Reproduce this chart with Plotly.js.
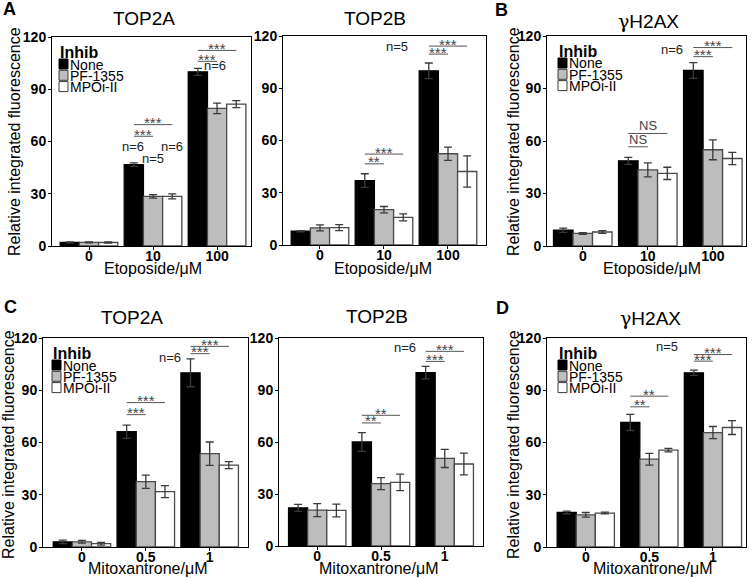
<!DOCTYPE html>
<html><head><meta charset="utf-8">
<script src="https://cdn.plot.ly/plotly-3.0.1.min.js"></script>
<style>html,body{margin:0;padding:0;background:#fff}#chart{width:753px;height:578px}</style>
</head><body><div id="chart"></div>
<script>
// ---------- DATA ----------
const seriesNames = ['None', 'PF-1355', 'MPOi-II'];
const etoDoses = ['0', '10', '100'];
const mitoDoses = ['0', '0.5', '1'];
const yTicks = [0, 30, 60, 90, 120];

// Etoposide, TOP2A
const etoTop2aNone = [2.1, 46.7, 100];   const etoTop2aNoneErr = [0.3, 1.0, 2.0];
const etoTop2aPF   = [2.1, 28.5, 79];    const etoTop2aPFErr   = [0.3, 1.0, 3.0];
const etoTop2aMPO  = [2.0, 28.5, 81.5];  const etoTop2aMPOErr  = [0.3, 1.4, 2.0];
// Etoposide, TOP2B
const etoTop2bNone = [7.9, 37, 100];     const etoTop2bNoneErr = [0.3, 3.9, 4.5];
const etoTop2bPF   = [9.8, 20.3, 52.4];  const etoTop2bPFErr   = [1.7, 1.8, 3.8];
const etoTop2bMPO  = [10, 15.9, 42.2];   const etoTop2bMPOErr  = [1.7, 2.0, 9.0];
// Etoposide, gH2AX
const etoH2axNone = [9, 48.7, 100.3];    const etoH2axNoneErr = [1.2, 2.0, 4.5];
const etoH2axPF   = [7.2, 43.5, 55];     const etoH2axPFErr   = [0.5, 4.0, 5.7];
const etoH2axMPO  = [8, 41.5, 50];       const etoH2axMPOErr  = [0.8, 3.5, 3.5];
// Mitoxantrone, TOP2A
const mitoTop2aNone = [2.9, 66.2, 100];  const mitoTop2aNoneErr = [1.0, 3.8, 8.0];
const mitoTop2aPF   = [3.0, 37.5, 53.6]; const mitoTop2aPFErr   = [0.8, 3.8, 6.7];
const mitoTop2aMPO  = [1.9, 31.8, 47];   const mitoTop2aMPOErr  = [0.8, 3.4, 2.0];
// Mitoxantrone, TOP2B
const mitoTop2bNone = [22, 60, 100];     const mitoTop2bNoneErr = [2.0, 5.4, 3.6];
const mitoTop2bPF   = [20.7, 36, 50.5];  const mitoTop2bPFErr   = [3.8, 3.5, 5.2];
const mitoTop2bMPO  = [20.5, 36.7, 47.3];const mitoTop2bMPOErr  = [3.7, 4.8, 6.3];
// Mitoxantrone, gH2AX
const mitoH2axNone = [19.8, 71.5, 100];  const mitoH2axNoneErr = [0.8, 4.6, 1.5];
const mitoH2axPF   = [18.5, 50.4, 65.7]; const mitoH2axPFErr   = [1.3, 3.4, 3.5];
const mitoH2axMPO  = [19.5, 55.6, 68.6]; const mitoH2axMPOErr  = [0.5, 1.0, 4.0];

// significance brackets: [dose group, from series, to series, level, label]
const sigEtoTop2a = [[1,0,1,63,'***'],[1,0,2,69.7,'***'],[2,0,1,106,'***'],[2,0,2,112.3,'***']];
const sigEtoTop2b = [[1,0,1,46.6,'**'],[1,0,2,52.2,'***'],[2,0,1,109.6,'***'],[2,0,2,114.2,'***']];
const sigEtoH2ax  = [[1,0,1,56.7,'NS'],[1,0,2,64.3,'NS'],[2,0,1,108.2,'***'],[2,0,2,113.4,'***']];
const sigMitoTop2a = [[1,0,1,76,'***'],[1,0,2,82.9,'***'],[2,0,1,111,'***'],[2,0,2,115.2,'***']];
const sigMitoTop2b = [[1,0,1,71,'**'],[1,0,2,75.4,'**'],[2,0,1,106.5,'***'],[2,0,2,112.3,'***']];
const sigMitoH2ax  = [[1,0,1,80.5,'**'],[1,0,2,86.6,'**'],[2,0,1,106.7,'***'],[2,0,2,110.5,'***']];

// sample size labels: [x (dose index), level, text]
const nEtoTop2a = [[0.68,57,'n=6'],[1.0,50.5,'n=5'],[1.3,57,'n=6'],[1.97,103.7,'n=6']];
const nEtoTop2b = [[1.2,113.8,'n=5']];
const nEtoH2ax  = [[1.37,112,'n=6']];
const nMitoTop2a = [[1.38,109,'n=6']];
const nMitoTop2b = [[1.37,114.8,'n=6']];
const nMitoH2ax  = [[1.28,114.9,'n=5']];

// ---------- LAYOUT CONFIG ----------
const W = 753, H = 578;
const FONT = 'Liberation Sans, Arial, Helvetica, sans-serif';
const fills = ['#000000', '#bdbdbd', '#ffffff'];
const outlines = ['#000000', '#4a4a4a', '#4a4a4a'];
const gammaTitle = '<span style="font-family:DejaVu Serif, serif">γ</span>H2AX';

const panels = [
  {title:'TOP2A', doses:etoDoses, xlab:'Etoposide/μM',
   vals:[etoTop2aNone, etoTop2aPF, etoTop2aMPO], errs:[etoTop2aNoneErr, etoTop2aPFErr, etoTop2aMPOErr],
   sig:sigEtoTop2a, n:nEtoTop2a, box:[52,37,251,246], range:[-0.578,2.53],
   titlePos:[144,19], xlabPos:[153,268], ylabPos:[14,142], letter:['A',9,9], legendDx:7},
  {title:'TOP2B', doses:etoDoses, xlab:'Etoposide/μM',
   vals:[etoTop2bNone, etoTop2bPF, etoTop2bMPO], errs:[etoTop2bNoneErr, etoTop2bPFErr, etoTop2bMPOErr],
   sig:sigEtoTop2b, n:nEtoTop2b, box:[283,36,486,245], range:[-0.578,2.594],
   titlePos:[375,19], xlabPos:[383,268], ylabPos:null, letter:null, legendDx:null},
  {title:gammaTitle, doses:etoDoses, xlab:'Etoposide/μM',
   vals:[etoH2axNone, etoH2axPF, etoH2axMPO], errs:[etoH2axNoneErr, etoH2axPFErr, etoH2axMPOErr],
   sig:sigEtoH2ax, n:nEtoH2ax, box:[547,36,746,246], range:[-0.55,2.51],
   titlePos:[648,21], xlabPos:[652,268], ylabPos:[513,142], letter:['B',501,10], legendDx:11},
  {title:'TOP2A', doses:mitoDoses, xlab:'Mitoxantrone/μM',
   vals:[mitoTop2aNone, mitoTop2aPF, mitoTop2aMPO], errs:[mitoTop2aNoneErr, mitoTop2aPFErr, mitoTop2aMPOErr],
   sig:sigMitoTop2a, n:nMitoTop2a, box:[43,338,248,547], range:[-0.61,2.6],
   titlePos:[132,317], xlabPos:[147,568], ylabPos:[8,445], letter:['C',10,307], legendDx:9},
  {title:'TOP2B', doses:mitoDoses, xlab:'Mitoxantrone/μM',
   vals:[mitoTop2bNone, mitoTop2bPF, mitoTop2bMPO], errs:[mitoTop2bNoneErr, mitoTop2bPFErr, mitoTop2bMPOErr],
   sig:sigMitoTop2b, n:nMitoTop2b, box:[279,338,483,546], range:[-0.6,2.6],
   titlePos:[377,316], xlabPos:[378,568], ylabPos:null, letter:null, legendDx:null},
  {title:gammaTitle, doses:mitoDoses, xlab:'Mitoxantrone/μM',
   vals:[mitoH2axNone, mitoH2axPF, mitoH2axMPO], errs:[mitoH2axNoneErr, mitoH2axPFErr, mitoH2axMPOErr],
   sig:sigMitoH2ax, n:nMitoH2ax, box:[547,338,746,547], range:[-0.61,2.52],
   titlePos:[650,318], xlabPos:[652,568], ylabPos:[513,445], letter:['D',502,308], legendDx:11}
];

const px = x => x / W;
const py = y => 1 - y / H;
const GROUPW = 0.9, BARW = GROUPW / 3;
const barCenter = (g, s) => g + (s - 1) * BARW;
const bold = s => '<b>' + s + '</b>';

const traces = [], shapes = [], annotations = [];
const layout = {
  width: W, height: H, margin:{l:0,r:0,t:0,b:0},
  paper_bgcolor:'#fff', plot_bgcolor:'#fff',
  barmode:'group', bargap:0.1, bargroupgap:0, showlegend:false,
  font:{family:FONT, color:'#000'}
};

panels.forEach((p, i) => {
  const k = i === 0 ? '' : String(i + 1);
  const xa = 'x' + k, ya = 'y' + k;
  p.vals.forEach((v, s) => {
    traces.push({
      type:'bar', name:seriesNames[s], x:[0,1,2], y:v, xaxis:xa, yaxis:ya, showlegend:false,
      marker:{color:fills[s], line:{color:outlines[s], width:1.3}},
      error_y:{type:'data', array:p.errs[s], visible:true, color:'#3a3a3a', thickness:1.3, width:4},
      hoverinfo:'y'
    });
  });
  const [l, t, r, b] = p.box;
  layout['xaxis' + k] = {
    domain:[px(l), px(r)], range:p.range, anchor:ya, tickmode:'array', tickvals:[0,1,2], ticktext:p.doses.map(bold),
    showline:true, mirror:true, linecolor:'#000', linewidth:1, ticks:'outside', ticklen:3, tickcolor:'#000',
    ticklabelstandoff:-6,
    tickfont:{family:FONT, size:14, color:'#000'}, showgrid:false, zeroline:false, fixedrange:true
  };
  layout['yaxis' + k] = {
    domain:[py(b), py(t)], range:[0,120], anchor:xa, tickmode:'array', tickvals:yTicks, ticktext:yTicks.map(v => bold(String(v))),
    showline:true, mirror:true, linecolor:'#000', linewidth:1, ticks:'outside', ticklen:3, tickcolor:'#000',
    ticklabelstandoff:-1,
    tickfont:{family:FONT, size:14, color:'#000'}, showgrid:false, zeroline:false, fixedrange:true
  };
  // titles
  annotations.push({xref:'paper', yref:'paper', x:px(p.titlePos[0]), y:py(p.titlePos[1]), text:p.title,
    showarrow:false, xanchor:'center', yanchor:'middle', font:{size:19, family:FONT, color:'#000'}});
  annotations.push({xref:'paper', yref:'paper', x:px(p.xlabPos[0]), y:py(p.xlabPos[1]), text:p.xlab,
    showarrow:false, xanchor:'center', yanchor:'middle', font:{size:16, family:FONT, color:'#000'}});
  if (p.ylabPos) {
    annotations.push({xref:'paper', yref:'paper', x:px(p.ylabPos[0]), y:py(p.ylabPos[1]),
      text:'Relative integrated fluorescence', textangle:-90,
      showarrow:false, xanchor:'center', yanchor:'middle', font:{size:16, family:FONT, color:'#000'}});
  }
  if (p.letter) {
    annotations.push({xref:'paper', yref:'paper', x:px(p.letter[1]), y:py(p.letter[2]), text:bold(p.letter[0]),
      showarrow:false, xanchor:'center', yanchor:'middle', font:{size:18, family:FONT, color:'#000'}});
  }
  // legend
  if (p.legendDx !== null) {
    const lx = l + p.legendDx;
    annotations.push({xref:'paper', yref:'paper', x:px(lx - 1), y:py(t + 15), text:bold('Inhib'),
      showarrow:false, xanchor:'left', yanchor:'middle', font:{size:16, family:FONT, color:'#000'}});
    seriesNames.forEach((nm, s) => {
      const cy = t + 27 + s * 11.3;
      shapes.push({type:'rect', xref:'paper', yref:'paper', x0:px(lx), x1:px(lx + 9),
        y0:py(cy - 5), y1:py(cy + 5), fillcolor:fills[s], line:{color: s === 0 ? '#000' : '#3a3a3a', width:1}});
      annotations.push({xref:'paper', yref:'paper', x:px(lx + 9), y:py(cy + 0.5), text:nm,
        showarrow:false, xanchor:'left', yanchor:'middle', font:{size:14, family:FONT, color:'#000'}});
    });
  }
  // significance brackets
  p.sig.forEach(([g, a, c, lev, lab]) => {
    const x0 = barCenter(g, a), x1 = barCenter(g, c);
    shapes.push({type:'line', xref:xa, yref:ya, x0:x0, x1:x1, y0:lev, y1:lev, line:{color:'#555', width:1}});
    const isNS = lab === 'NS';
    annotations.push({xref:xa, yref:ya, x:(x0 + x1) / 2, y:lev, text:lab, showarrow:false,
      xanchor:'center', yanchor: isNS ? 'bottom' : 'middle', yshift: isNS ? -2 : 2,
      font:{size: isNS ? 13 : 15, family:FONT, color:'#444'}});
  });
  // n labels
  p.n.forEach(([x, lev, txt]) => {
    annotations.push({xref:xa, yref:ya, x:x, y:lev, text:txt, showarrow:false,
      xanchor:'center', yanchor:'middle', font:{size:13, family:FONT, color:'#222'}});
  });
});

layout.shapes = shapes;
layout.annotations = annotations;
Plotly.newPlot('chart', traces, layout, {displayModeBar:false, staticPlot:true});
</script></body></html>
